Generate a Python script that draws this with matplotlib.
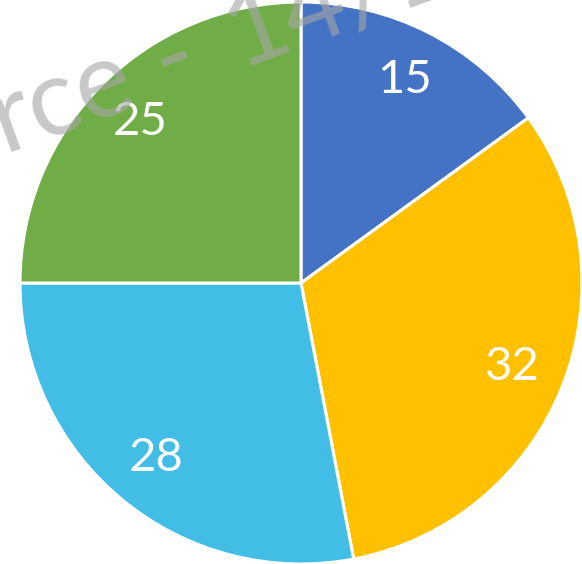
import numpy as np
import matplotlib
matplotlib.use("Agg")
import matplotlib.pyplot as plt

values = [15, 32, 28, 25]
colors = ["#4472C4", "#FFC000", "#41BDE6", "#70AD47"]
watermark_parts = ["rce", "-", "14/11"]
watermark_offsets = [0, 172, 250]  # pixels along the slanted baseline

W, H, DPI = 582, 564, 100
cx, cy, r = 301, 283, 281  # pie centre and radius in pixels

fig = plt.figure(figsize=(W / DPI, H / DPI), dpi=DPI)
ax = fig.add_axes([0, 0, 1, 1])
ax.axis("off")

total = sum(values)
wedges, texts, autotexts = ax.pie(
    values, colors=colors, startangle=90, counterclock=False, radius=1,
    autopct=lambda p: "{:.0f}".format(p * total / 100), pctdistance=0.81,
    wedgeprops=dict(edgecolor="white", linewidth=2.2),
    textprops=dict(color="white", fontsize=34, family="Lato"),
)

ax.set_aspect("auto")
ax.set_xlim(-cx / r, (W - cx) / r)
ax.set_ylim(-(H - cy) / r, cy / r)

# watermark across the top-left, laid along one slanted baseline
angle = 20
x0, y0 = 4, 152
for part, s in zip(watermark_parts, watermark_offsets):
    px = x0 + s * np.cos(np.radians(angle))
    py = y0 - s * np.sin(np.radians(angle))
    fig.text(px / W, 1 - py / H, part, transform=fig.transFigure,
             rotation=angle, rotation_mode="anchor", ha="left", va="baseline",
             fontsize=76, family="Lato", color="#a6a6a6", alpha=0.62)

fig.savefig("out.png", dpi=DPI)
